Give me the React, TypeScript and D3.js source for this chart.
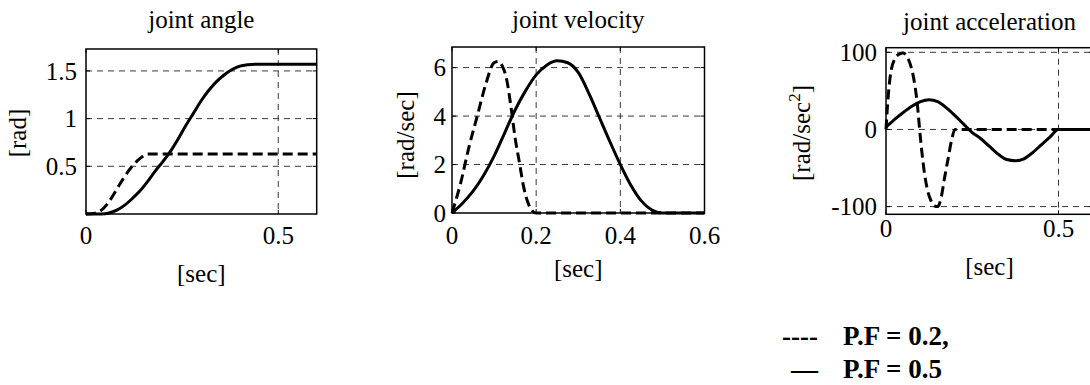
import React from "react";
import * as d3 from "d3";

// ---------- data ----------
const angleDashT = [0, 0.02, 0.04, 0.06, 0.08, 0.1, 0.12, 0.14, 0.16, 0.6];
const angleDashV = [0, 0.005, 0.04, 0.13, 0.26, 0.39, 0.5, 0.58, 0.628, 0.628];
const angleSolidT = [0, 0.04, 0.06, 0.08, 0.1, 0.12, 0.14, 0.16, 0.18, 0.2, 0.22, 0.24, 0.26, 0.28, 0.3, 0.32, 0.34, 0.36, 0.38, 0.4, 0.42, 0.44, 0.6];
const angleSolidV = [0, 0, 0.01, 0.04, 0.09, 0.16, 0.24, 0.34, 0.45, 0.55, 0.66, 0.79, 0.93, 1.06, 1.19, 1.3, 1.39, 1.46, 1.515, 1.55, 1.565, 1.57, 1.57];

const velDashT = [0, 0.02, 0.04, 0.06, 0.08, 0.1, 0.11, 0.12, 0.13, 0.14, 0.15, 0.16, 0.17, 0.18, 0.19, 0.2, 0.6];
const velDashV = [0, 1.2, 2.7, 4.0, 5.3, 6.2, 6.25, 6.05, 5.5, 4.4, 3.1, 2.1, 1.1, 0.45, 0.1, 0, 0];
const velSolidT = [0, 0.025, 0.05, 0.075, 0.1, 0.125, 0.15, 0.175, 0.2, 0.225, 0.25, 0.275, 0.3, 0.325, 0.35, 0.375, 0.4, 0.425, 0.45, 0.475, 0.5, 0.6];
const velSolidV = [0, 0.4, 0.9, 1.55, 2.35, 3.3, 4.25, 5.05, 5.7, 6.1, 6.28, 6.2, 5.8, 4.95, 3.95, 2.95, 2.0, 1.15, 0.5, 0.12, 0, 0];

const accDashT = [0, 0.005, 0.012, 0.025, 0.04, 0.05, 0.06, 0.07, 0.08, 0.09, 0.1, 0.11, 0.12, 0.13, 0.14, 0.15, 0.16, 0.17, 0.18, 0.19, 0.2, 0.6];
const accDashV = [0, 35, 68, 91, 98, 99, 95, 85, 67, 36, -12, -52, -78, -92, -99, -100, -88, -62, -38, -14, 0, 0];
const accSolidT = [0, 0.025, 0.05, 0.075, 0.1, 0.125, 0.15, 0.175, 0.2, 0.225, 0.25, 0.275, 0.3, 0.325, 0.35, 0.375, 0.4, 0.425, 0.45, 0.475, 0.5, 0.6];
const accSolidV = [3, 13, 22, 30, 36, 38.5, 36, 28, 18, 7, -4, -12, -22, -32, -39, -40.5, -38, -30, -20, -10, 0, 0];

const titles = ["joint angle", "joint velocity", "joint acceleration"];
const xLabel = "[sec]";
const legendLabels = ["P.F = 0.2,", "P.F = 0.5"];

const FONT = "'Liberation Serif', 'Times New Roman', serif";

type PanelProps = {
  rect: { l: number; r: number; t: number; b: number };
  xDomain: [number, number];
  yDomain: [number, number];
  xTicks: number[];
  yTicks: number[];
  xTickFmt: (v: number) => string;
  yTickFmt: (v: number) => string;
  title: string;
  titleY: number;
  xTickY: number;
  xLabelY: number;
  yLabel: React.ReactNode;
  yLabelX: number;
  yLabelY: number;
  yTickGap: number;
  dash: { t: number[]; v: number[] };
  solid: { t: number[]; v: number[] };
};

function Panel(p: PanelProps) {
  const { rect } = p;
  const x = d3.scaleLinear().domain(p.xDomain).range([rect.l, rect.r]);
  const y = d3.scaleLinear().domain(p.yDomain).range([rect.b, rect.t]);
  const line = d3
    .line<[number, number]>()
    .x((d) => x(d[0]))
    .y((d) => y(d[1]))
    .curve(d3.curveMonotoneX);
  const dashPts = p.dash.t.map((t, i) => [t, p.dash.v[i]] as [number, number]);
  const solidPts = p.solid.t.map((t, i) => [t, p.solid.v[i]] as [number, number]);
  const gx = p.xTicks.filter((v) => v > p.xDomain[0] && v < p.xDomain[1]);
  const gy = p.yTicks.filter((v) => v > p.yDomain[0] && v < p.yDomain[1]);
  const tl = 4;
  return (
    <g>
      <text x={(rect.l + rect.r) / 2} y={p.titleY} textAnchor="middle" fontSize={25} fontFamily={FONT}>
        {p.title}
      </text>
      {gx.map((v) => (
        <line key={"gx" + v} x1={x(v)} x2={x(v)} y1={rect.t} y2={rect.b} stroke="#222" strokeWidth={0.9} strokeDasharray="6,5" />
      ))}
      {gy.map((v) => (
        <line key={"gy" + v} x1={rect.l} x2={rect.r} y1={y(v)} y2={y(v)} stroke="#222" strokeWidth={0.9} strokeDasharray="6,5" />
      ))}
      {p.xTicks.map((v) => (
        <g key={"xt" + v}>
          <line x1={x(v)} x2={x(v)} y1={rect.b} y2={rect.b - tl} stroke="#000" strokeWidth={1} />
          <line x1={x(v)} x2={x(v)} y1={rect.t} y2={rect.t + tl} stroke="#000" strokeWidth={1} />
          <text x={x(v)} y={p.xTickY} textAnchor="middle" fontSize={25} fontFamily={FONT}>
            {p.xTickFmt(v)}
          </text>
        </g>
      ))}
      {p.yTicks.map((v) => (
        <g key={"yt" + v}>
          <line x1={rect.l} x2={rect.l + tl} y1={y(v)} y2={y(v)} stroke="#000" strokeWidth={1} />
          <line x1={rect.r} x2={rect.r - tl} y1={y(v)} y2={y(v)} stroke="#000" strokeWidth={1} />
          <text x={rect.l - p.yTickGap} y={y(v)} dy="0.35em" textAnchor="end" fontSize={25} fontFamily={FONT}>
            {p.yTickFmt(v)}
          </text>
        </g>
      ))}
      <path d={line(solidPts) || ""} fill="none" stroke="#000" strokeWidth={3} strokeLinejoin="round" />
      <path d={line(dashPts) || ""} fill="none" stroke="#000" strokeWidth={3} strokeDasharray="10,5" />
      <rect x={rect.l} y={rect.t} width={rect.r - rect.l} height={rect.b - rect.t} fill="none" stroke="#000" strokeWidth={1.5} />
      <text x={(rect.l + rect.r) / 2} y={p.xLabelY} textAnchor="middle" fontSize={25} fontFamily={FONT}>
        {xLabel}
      </text>
      <text
        transform={`translate(${p.yLabelX},${p.yLabelY}) rotate(-90)`}
        textAnchor="middle"
        fontSize={25}
        fontFamily={FONT}
      >
        {p.yLabel}
      </text>
    </g>
  );
}

export default function App() {
  const fmt = (v: number) => (v === 0 ? "0" : String(v));
  return (
    <svg width={1090} height={385} style={{ position: "absolute", left: 0, top: 0, background: "#fff" }}>
      <rect x={0} y={0} width={1090} height={385} fill="#fff" />
      <Panel
        rect={{ l: 86, r: 316.7, t: 49, b: 214 }}
        xDomain={[0, 0.6]}
        yDomain={[0, 1.73]}
        xTicks={[0, 0.5]}
        yTicks={[0.5, 1, 1.5]}
        xTickFmt={fmt}
        yTickFmt={fmt}
        title={titles[0]}
        titleY={28}
        xTickY={244}
        xLabelY={282}
        yLabel={"[rad]"}
        yLabelX={26}
        yLabelY={133}
        yTickGap={9}
        dash={{ t: angleDashT, v: angleDashV }}
        solid={{ t: angleSolidT, v: angleSolidV }}
      />
      <Panel
        rect={{ l: 452, r: 704.5, t: 47, b: 213 }}
        xDomain={[0, 0.6]}
        yDomain={[0, 6.85]}
        xTicks={[0, 0.2, 0.4, 0.6]}
        yTicks={[0, 2, 4, 6]}
        xTickFmt={fmt}
        yTickFmt={fmt}
        title={titles[1]}
        titleY={28}
        xTickY={244}
        xLabelY={277}
        yLabel={"[rad/sec]"}
        yLabelX={414}
        yLabelY={135}
        yTickGap={6}
        dash={{ t: velDashT, v: velDashV }}
        solid={{ t: velSolidT, v: velSolidV }}
      />
      <Panel
        rect={{ l: 886, r: 1093, t: 47.7, b: 214.3 }}
        xDomain={[0, 0.6]}
        yDomain={[-110, 106]}
        xTicks={[0, 0.5]}
        yTicks={[-100, 0, 100]}
        xTickFmt={fmt}
        yTickFmt={fmt}
        title={titles[2]}
        titleY={30}
        xTickY={237}
        xLabelY={275}
        yLabel={
          <>
            <tspan>[rad/sec</tspan>
            <tspan dy={-10} fontSize={17}>2</tspan>
            <tspan dy={10}>]</tspan>
          </>
        }
        yLabelX={810}
        yLabelY={133}
        yTickGap={9}
        dash={{ t: accDashT, v: accDashV }}
        solid={{ t: accSolidT, v: accSolidV }}
      />
      <text x={782} y={345} fontSize={27} fontWeight="bold" fontFamily={FONT}>----</text>
      <text x={843} y={345} fontSize={27} fontWeight="bold" fontFamily={FONT}>{legendLabels[0]}</text>
      <text x={791} y={378} fontSize={27} fontWeight="bold" fontFamily={FONT}>—</text>
      <text x={843} y={378} fontSize={27} fontWeight="bold" fontFamily={FONT}>{legendLabels[1]}</text>
    </svg>
  );
}
